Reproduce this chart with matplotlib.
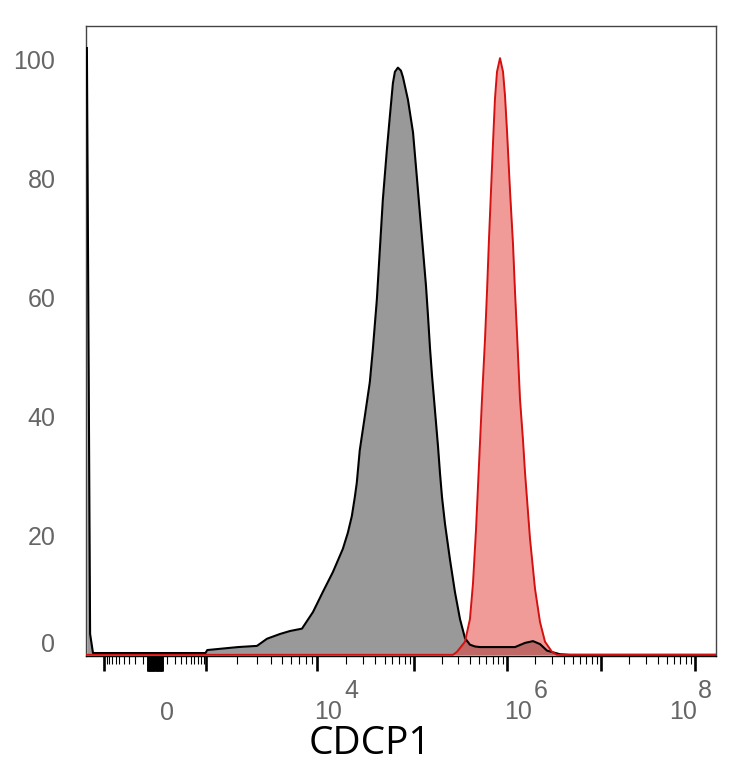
import numpy as np
import matplotlib
matplotlib.use("Agg")
import matplotlib.pyplot as plt
from matplotlib.transforms import ScaledTranslation

plt.rcParams['font.family'] = ['Liberation Sans', 'DejaVu Sans']

# Histogram of the control sample (grey) - intensity vs. % of max
grey_x = [-1470, -1370, -1285, -1000, 0, 980, 1030, 2024, 3008, 3690, 4798,
          5860, 7438, 9244, 11530, 14620, 18540, 20880, 22960, 24650, 25830,
          27730, 31260, 35170, 37780, 41560, 44610, 47890, 52690, 56590,
          60770, 63700, 68390, 73420, 77070, 86690, 97720, 107700, 116000,
          125000, 134600, 141400, 148700, 156100, 164100, 172500, 181300,
          190400, 200100, 215500, 243800, 276000, 312400, 353400, 399600,
          452600, 512600, 1.216e6, 1.553e6, 1.891e6, 2.246e6, 2.666e6,
          3.66e6, 4.68e6, 3e8]
grey_y = [102, 3.5, 0.3, 0.3, 0.3, 0.3, 0.8, 1.3, 1.5, 2.7, 3.5,
          4.0, 4.4, 7.2, 10.6, 13.9, 17.8, 20.5, 23.3, 26.5, 28.9,
          34.4, 40.1, 45.8, 51.3, 59.7, 68.1, 76.5, 84.9, 90.6,
          96.1, 98.0, 98.7, 98.2, 97.1, 93.3, 87.8, 80.0, 74.0,
          68.0, 62.0, 57.0, 51.5, 47.0, 43.0, 39.0, 35.0,
          30.5, 26.5, 22.0, 16.0, 10.5, 6.0, 2.8, 1.7,
          1.4, 1.3, 1.3, 2.0, 2.3, 1.8, 0.7,
          0.1, 0.0, 0.0]

# CDCP1 stained sample (red)
red_x = [-1500, 262500, 289900, 353400, 399600, 430800, 464100, 500000,
         538500, 579900, 609300, 640400, 673000, 706800, 742400, 780500,
         840500, 905800, 951100, 1.0e6, 1.076e6, 1.158e6, 1.216e6,
         1.277e6, 1.374e6, 1.480e6, 1.553e6, 1.756e6, 1.985e6, 2.244e6,
         2.536e6, 3.01e6, 3.40e6, 3e8]
red_y = [0, 0, 0.5, 2.2, 6.0, 12.0, 21.0, 32.0,
         43.0, 53.0, 61.0, 70.0, 78.0, 86.0, 93.5, 98.0,
         100.3, 98.0, 94.0, 88.0, 78.0, 69.0, 61.0,
         54.0, 43.0, 36.0, 30.7, 19.5, 11.1, 5.5,
         2.2, 0.5, 0, 0]

y_ticks = [0, 20, 40, 60, 80, 100]
decade_labels = [(1e4, '4'), (1e6, '6'), (1e8, '8')]

# biexponential-like axis: symmetric log coordinate, then piecewise to display
C = 200.0
ANCH_X = np.array([-1e5, -1e4, -1e3, 0, 1e3, 1e4, 1e5, 1e6, 1e7, 1e8, 1e9])
ANCH_POS = np.array([-2.698, -1.6875, -0.531, 0, 0.531, 1.6875, 2.698,
                     3.667, 4.646, 5.625, 6.604])


def sym_u(x):
    x = np.asarray(x, dtype=float)
    return np.sign(x) * np.log10(1 + np.abs(x) / C)


ANCH_U = sym_u(ANCH_X)


def forward(x):
    return np.interp(sym_u(x), ANCH_U, ANCH_POS)


def inverse(s):
    u = np.interp(np.asarray(s, dtype=float), ANCH_POS, ANCH_U)
    return np.sign(u) * C * (10 ** np.abs(u) - 1)


fig = plt.figure(figsize=(7.34, 7.68), dpi=100)
ax = fig.add_axes([86 / 734, 112 / 768, 630 / 734, 630 / 768])
ax.set_xscale('function', functions=(forward, inverse))

ax.fill_between(grey_x, grey_y, 0, color='#999999', lw=0, zorder=1)
ax.fill_between(red_x, red_y, 0, color='#e53935', alpha=0.5, lw=0, zorder=2)
ax.plot(grey_x, grey_y, color='black', lw=1.5, zorder=3, solid_joinstyle='round')
ax.plot(red_x, red_y, color='#d41010', lw=1.4, zorder=4, solid_joinstyle='round')

ax.set_xlim(float(inverse(-0.719)), float(inverse(5.844)))
ax.set_ylim(-0.2, 105.7)

for sp in ax.spines.values():
    sp.set_color('#444444')
    sp.set_linewidth(1.0)
ax.spines['bottom'].set_color('black')

# x ticks
major = [-1e3] + list(np.arange(-60, 61, 6)) + [1e3, 1e4, 1e5, 1e6, 1e7, 1e8]
minor = []
for m in range(1, 10):
    minor += [-m * 100, m * 100]
for e in range(3, 8):
    minor += [m * 10 ** e for m in range(2, 10)]
ax.set_xticks(major)
ax.set_xticks(minor, minor=True)
ax.set_xticklabels([])
ax.tick_params(axis='x', which='major', length=11, width=1.9, color='black',
               direction='out')
ax.tick_params(axis='x', which='minor', length=5.8, width=0.8, color='black',
               direction='out')

# y ticks
ax.set_yticks(y_ticks)
ax.set_yticklabels([str(v) for v in y_ticks])
ax.tick_params(axis='y', length=0, pad=22, labelsize=18, labelcolor='#666666')
zero_lbl = ax.get_yticklabels()[0]
zero_lbl.set_transform(zero_lbl.get_transform() +
                       ScaledTranslation(0, 0.12, fig.dpi_scale_trans))

# x labels
lbl = dict(xycoords=('data', 'axes fraction'), textcoords='offset pixels',
           va='center', fontsize=18, color='#666666')
ax.annotate('0', xy=(0, 0), xytext=(12, -57), ha='center', **lbl)
for val, exp in decade_labels:
    if val < 1e8:
        ax.annotate('10', xy=(val, 0), xytext=(-3, -56), ha='left', **lbl)
        ax.annotate(exp, xy=(val, 0), xytext=(27, -35), ha='left', **lbl)
    else:
        ax.annotate('10', xy=(val, 0), xytext=(2, -56), ha='right', **lbl)
        ax.annotate(exp, xy=(val, 0), xytext=(3, -35), ha='left', **lbl)

ax.set_xlabel('CDCP1', fontsize=28, family=['Open Sans', 'DejaVu Sans'],
              va='center')
ax.xaxis.set_label_coords((370 - 86) / 630, (656 - 744) / 630)

fig.savefig('out.png', dpi=100)
